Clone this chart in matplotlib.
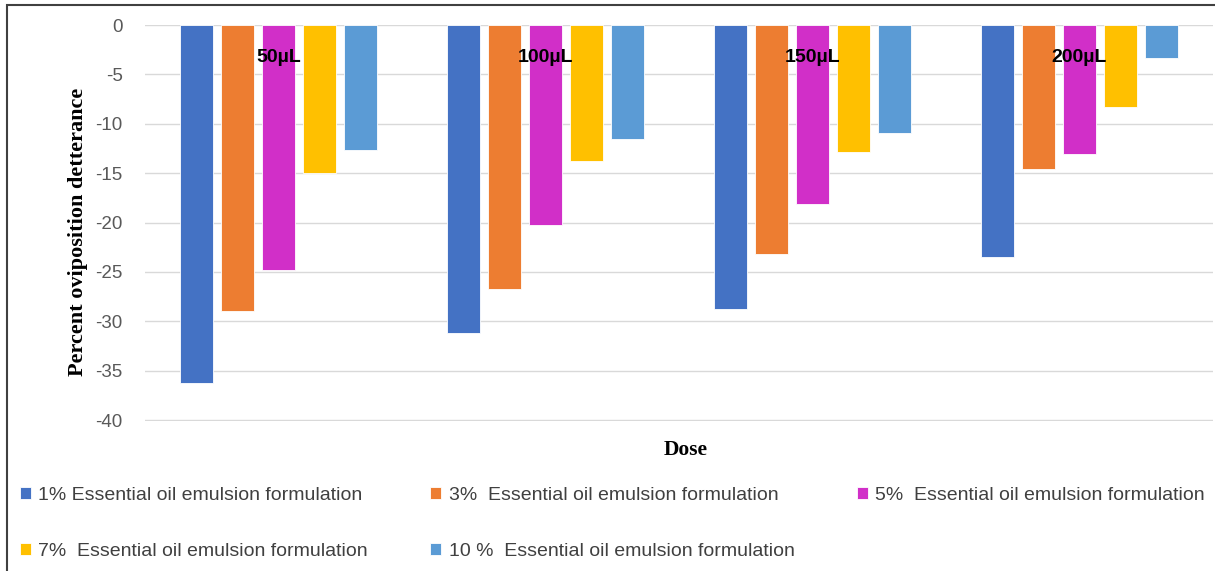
import numpy as np
import matplotlib
matplotlib.use("Agg")
from matplotlib import pyplot as plt
from matplotlib.patches import Rectangle

doses = ["50µL", "100µL", "150µL", "200µL"]
labels = ["1% Essential oil emulsion formulation",
          "3%  Essential oil emulsion formulation",
          "5%  Essential oil emulsion formulation",
          "7%  Essential oil emulsion formulation",
          "10 %  Essential oil emulsion formulation"]
colors = ["#4472C4", "#ED7D31", "#D12FC8", "#FFC000", "#5B9BD5"]

pct1 = [-36.3, -31.2, -28.8, -23.5]
pct3 = [-29.0, -26.7, -23.2, -14.6]
pct5 = [-24.8, -20.3, -18.1, -13.1]
pct7 = [-15.0, -13.8, -12.9, -8.3]
pct10 = [-12.7, -11.5, -10.9, -3.3]
series = [pct1, pct3, pct5, pct7, pct10]

plt.rcParams['font.family'] = ['Liberation Sans', 'DejaVu Sans']
plt.rcParams['axes.unicode_minus'] = False

fig = plt.figure(figsize=(12.15, 5.71), dpi=100)
ax = fig.add_axes([145 / 1215, 1 - 421 / 571, 1068 / 1215, 396 / 571])

x = np.arange(len(doses))
pitch = 0.154
width = 0.124
bars = []
for i, (vals, c) in enumerate(zip(series, colors)):
    b = ax.bar(x + (i - 2) * pitch, vals, width, color=c, edgecolor="white",
               linewidth=0.6, zorder=2)
    bars.append(b)

# category labels sit just under the zero line
for i, d in enumerate(doses):
    ax.text(i, -3.3, d, ha="center", va="center", fontsize=14,
            fontweight="bold", color="black", zorder=3)

ax.set_xlim(-0.5, 3.5)
ax.set_ylim(-40.1, 0)
ax.set_yticks(range(-40, 1, 5))
ax.set_xticks([])
ax.tick_params(axis="y", length=0, pad=16, labelsize=13.5, labelcolor="#595959")
ax.grid(axis="y", color="#D9D9D9", linewidth=1, zorder=0)
for s in ax.spines.values():
    s.set_visible(False)

ax.set_ylabel("Percent oviposition detterance", family="Liberation Serif",
              fontweight="bold", fontsize=16)
ax.yaxis.set_label_coords(-0.053, 0.477)
ax.set_xlabel("Dose", family="Liberation Serif", fontweight="bold", fontsize=15.5)
ax.xaxis.set_label_coords(0.506, -0.048)

# column-major fill -> order so rows read 1,3,5 / 7,10
order = [0, 3, 1, 4, 2]
leg = fig.legend([bars[k] for k in order], [labels[k] for k in order],
                 ncol=3, loc="upper left", bbox_to_anchor=(0.002, 0.178),
                 frameon=False, fontsize=14, handlelength=0.55, handleheight=0.55,
                 handletextpad=0.4, columnspacing=3.2, labelspacing=2.0,
                 labelcolor="#404040")

fig.add_artist(Rectangle((7 / 1215, -0.1), 1.2, (571 - 5) / 571 + 0.1,
                         transform=fig.transFigure, fill=False,
                         edgecolor="#404040", linewidth=1.5, clip_on=False))

fig.savefig("out.png", dpi=100, facecolor="white")
